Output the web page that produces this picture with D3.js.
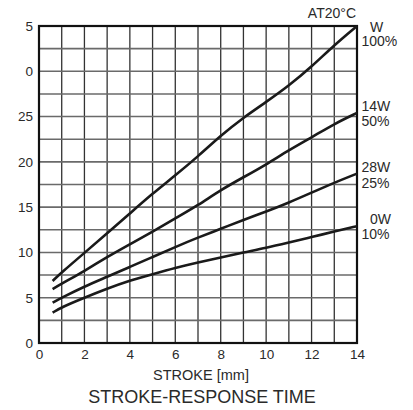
<!DOCTYPE html>
<html><head><meta charset="utf-8">
<script src="https://cdn.jsdelivr.net/npm/d3@7"></script>
<style>body{margin:0;background:#fff}svg{display:block}text{font-family:"Liberation Sans",Arial,sans-serif;fill:#2a2a2a}</style>
</head><body><svg id="c" width="413" height="410"></svg>
<script>
const strokeX = [0.6,1,2,3,4,5,6,7,8,9,10,11,12,13,14];
const w100 = [6.85,7.8,9.95,12.1,14.3,16.5,18.5,20.6,22.9,24.9,26.6,28.4,30.5,32.9,35];
const w50  = [5.95,6.55,7.95,9.5,10.9,12.3,13.75,15.2,16.9,18.3,19.7,21.3,22.7,24.2,25.4];
const w25  = [4.45,5.0,6.25,7.3,8.4,9.5,10.6,11.65,12.6,13.6,14.5,15.5,16.6,17.7,18.7];
const w10  = [3.35,3.95,5.0,6.0,6.9,7.6,8.3,8.9,9.45,10.0,10.5,11.1,11.7,12.3,12.9];
const xTicks = [0,2,4,6,8,10,12,14];
const yTicks = [0,5,10,15,20,25,30,35];
const yTickLabels = ["0","5","10","15","20","25","0","5"];
const seriesLabels = [["W","100%"],["14W","50%"],["28W","25%"],["0W","10%"]];

const svg = d3.select("#c");
const x = d3.scaleLinear().domain([0,14]).range([39,357]);
const y = d3.scaleLinear().domain([0,35]).range([343,26]);
const g = svg.append("g");

// grid
g.selectAll(".vg").data(d3.range(1,14)).join("line")
  .attr("x1",d=>x(d)).attr("x2",d=>x(d)).attr("y1",y(0)).attr("y2",y(35))
  .attr("stroke","#333").attr("stroke-width",1.3);
g.selectAll(".hg").data(d3.range(1,14).map(i=>i*2.5)).join("line")
  .attr("x1",x(0)).attr("x2",x(14)).attr("y1",d=>y(d)).attr("y2",d=>y(d))
  .attr("stroke","#6a6a6a").attr("stroke-width",1.6);
// frame
g.append("rect").attr("x",x(0)).attr("y",y(35)).attr("width",x(14)-x(0)).attr("height",y(0)-y(35))
  .attr("fill","none").attr("stroke","#111").attr("stroke-width",2.2);

// axes
const xa = svg.append("g").attr("transform",`translate(0,${y(0)})`)
  .call(d3.axisBottom(x).tickValues(xTicks).tickSize(0).tickPadding(6).tickFormat(d3.format("d")));
const ya = svg.append("g").attr("transform",`translate(${x(0)},0)`)
  .call(d3.axisLeft(y).tickValues(yTicks).tickSize(0).tickPadding(6).tickFormat((d,i)=>yTickLabels[i]));
[xa,ya].forEach(a=>{a.select(".domain").remove();a.selectAll("text").attr("font-size",13.5).attr("font-family","Liberation Sans, Arial, sans-serif").attr("fill","#2a2a2a");});

// curves
const line = d3.line().x(d=>x(d[0])).y(d=>y(d[1])).curve(d3.curveBasis);
[w100,w50,w25,w10].forEach(s=>{
  g.append("path").datum(strokeX.map((v,i)=>[v,s[i]])).attr("d",line)
   .attr("fill","none").attr("stroke","#1a1a1a").attr("stroke-width",2.6).attr("stroke-linecap","butt");
});

// series labels
const lab = [[370,31.5,361.5,46],[361.5,111,361.5,126],[361.5,172,361.5,188],[370,224,361.5,239]];
seriesLabels.forEach((l,i)=>{
  svg.append("text").attr("x",lab[i][0]).attr("y",lab[i][1]).attr("font-size",14).text(l[0]);
  svg.append("text").attr("x",lab[i][2]).attr("y",lab[i][3]).attr("font-size",14).text(l[1]);
});
svg.append("text").attr("x",356).attr("y",18).attr("text-anchor","end").attr("font-size",14).text("AT20°C");
svg.append("text").attr("x",201).attr("y",380).attr("text-anchor","middle").attr("font-size",14.5).text("STROKE [mm]");
svg.append("text").attr("x",202).attr("y",403).attr("text-anchor","middle").attr("font-size",18).text("STROKE-RESPONSE TIME");
</script></body></html>
